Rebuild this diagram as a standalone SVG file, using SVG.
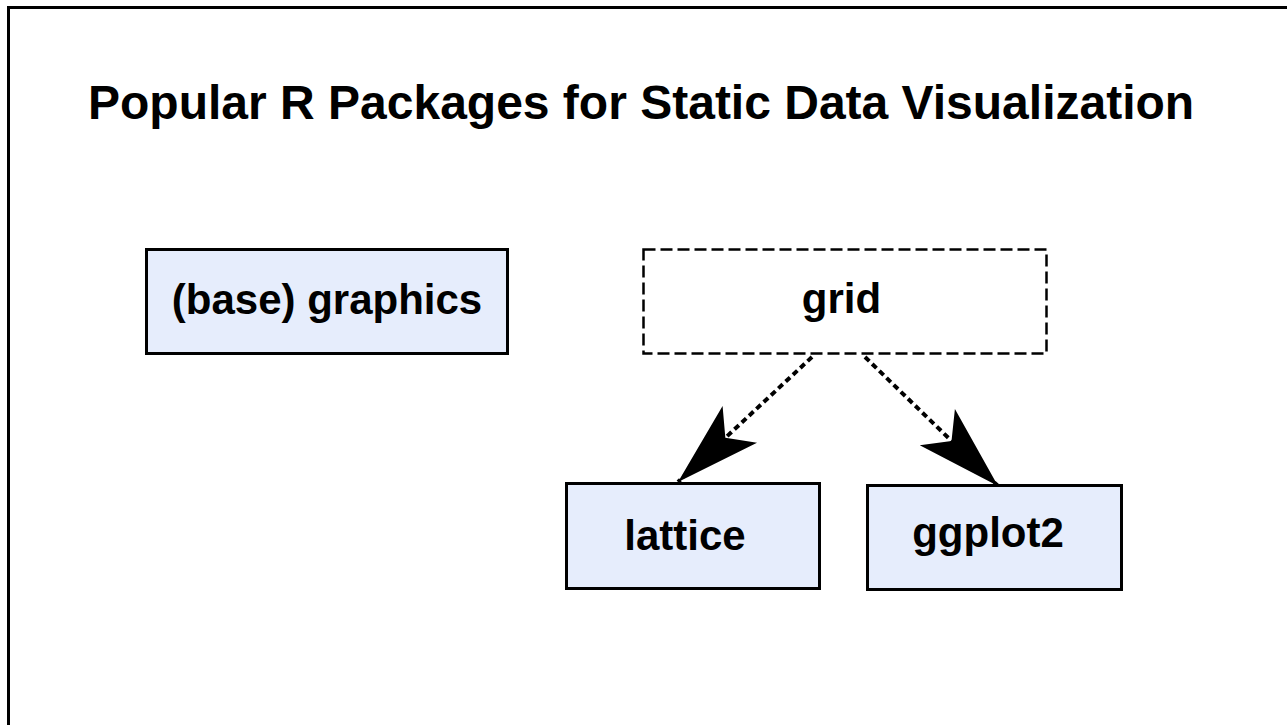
<svg xmlns="http://www.w3.org/2000/svg" width="1287" height="725" viewBox="0 0 1287 725">
  <defs>
    <style>
      text { font-family: "Liberation Sans", Arial, sans-serif; font-weight: bold; fill: #000; }
      .title { font-size: 48px; }
      .label { font-size: 42px; }
      .box { fill: #e6edfc; stroke: #000; stroke-width: 3; }
      .dashbox { fill: #fff; stroke: #000; stroke-width: 2.5; stroke-dasharray: 12 5; }
      .edge { fill: none; stroke: #000; stroke-width: 4; stroke-dasharray: 6 4; }
    </style>
    <marker id="head" markerUnits="userSpaceOnUse" markerWidth="90" markerHeight="60" viewBox="-80 -25 82 50" refX="0" refY="0" orient="auto">
      <path d="M0,0 L-77,-23 L-59,0 L-77,23 Z" fill="#000"/>
    </marker>
  </defs>
  <rect x="0" y="0" width="1287" height="725" fill="#fff"/>
  <path d="M8.5,725 L8.5,7.5 L1287,7.5" fill="none" stroke="#000" stroke-width="3"/>
  <text class="title" x="88" y="119">Popular R Packages for Static Data Visualization</text>

  <g id="connectors">
    <path class="edge" d="M812,357 L678,482" marker-end="url(#head)"/>
    <path class="edge" d="M865,357 L998,486" marker-end="url(#head)"/>
  </g>

  <g id="node-graphics">
    <rect class="box" x="146.5" y="249.5" width="361" height="104"/>
    <text class="label" x="327" y="314" text-anchor="middle">(base) graphics</text>
  </g>
  <g id="node-grid">
    <rect class="dashbox" x="643.5" y="249.5" width="403" height="104"/>
    <text class="label" x="841.5" y="313" text-anchor="middle">grid</text>
  </g>
  <g id="node-lattice">
    <rect class="box" x="566.5" y="483.5" width="253" height="105"/>
    <text class="label" x="685" y="550" text-anchor="middle">lattice</text>
  </g>
  <g id="node-ggplot2">
    <rect class="box" x="867.5" y="485.5" width="254" height="104"/>
    <text class="label" x="988" y="547" text-anchor="middle">ggplot2</text>
  </g>
</svg>
